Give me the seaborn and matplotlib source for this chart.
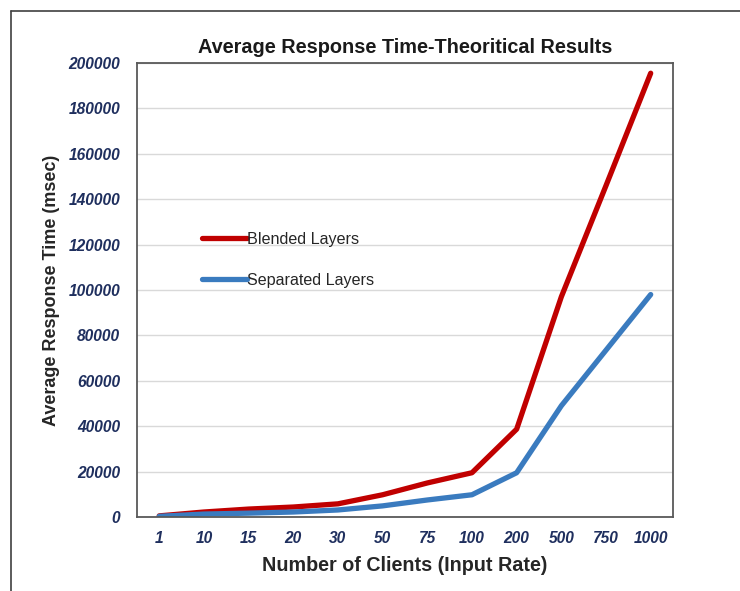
import matplotlib
matplotlib.use("Agg")
import matplotlib.pyplot as plt
import pandas as pd
import seaborn as sns
from matplotlib.lines import Line2D

clients = ["1", "10", "15", "20", "30", "50", "75", "100", "200", "500", "750", "1000"]
blended = [500, 2200, 3500, 4400, 5800, 9800, 15000, 19500, 38700, 97000, 146000, 195500]
separated = [300, 1300, 1700, 2200, 3100, 4900, 7500, 9800, 19500, 49000, 73500, 98000]
series_names = ["Blended Layers", "Separated Layers"]
y_ticks = list(range(0, 200001, 20000))

sns.set_theme(style="white")
plt.rcParams["font.family"] = ["Liberation Sans", "DejaVu Sans"]

df = pd.DataFrame({
    "pos": list(range(len(clients))) * 2,
    "time": blended + separated,
    "series": [series_names[0]] * len(clients) + [series_names[1]] * len(clients),
})

fig = plt.figure(figsize=(7.4, 5.91), dpi=100)
ax = fig.add_axes([0.185, 0.1252, 0.7245, 0.7682])

sns.lineplot(
    data=df, x="pos", y="time", hue="series",
    palette={"Blended Layers": "#C00000", "Separated Layers": "#3A7BBF"},
    linewidth=3.8, ax=ax, legend=False,
)

ax.set_xlim(-0.5, len(clients) - 0.5)
ax.set_ylim(0, 200000)
ax.set_xticks(range(len(clients)))
ax.set_xticklabels(clients)
ax.set_yticks(y_ticks)
ax.set_yticklabels([str(v) for v in y_ticks])
ax.yaxis.grid(True, color="#D9D9D9", linewidth=1)
ax.tick_params(axis="both", length=0, labelsize=11.2, labelcolor="#1F2F5E")
ax.tick_params(axis="x", pad=10)
ax.tick_params(axis="y", pad=12)
for lab in ax.get_xticklabels() + ax.get_yticklabels():
    lab.set_fontweight("bold")
    lab.set_fontstyle("italic")

for sp in ax.spines.values():
    sp.set_color("#595959")
    sp.set_linewidth(1.3)

ax.set_title("Average Response Time-Theoritical Results", fontsize=14.3,
             fontweight="bold", color="#1a1a1a", pad=7)
ax.set_xlabel("Number of Clients (Input Rate)", fontsize=14.2, fontweight="bold",
              color="#262626", labelpad=7)
ax.set_ylabel("Average Response Time (msec)", fontsize=13, fontweight="bold",
              color="#262626", labelpad=6)

handles = [Line2D([], [], color="#C00000", linewidth=3.8),
           Line2D([], [], color="#3A7BBF", linewidth=3.8)]
ax.legend(handles, series_names, loc="upper left", bbox_to_anchor=(0.095, 0.66),
          frameon=False, fontsize=11.6, handlelength=2.8, handletextpad=0.0,
          labelspacing=1.6, labelcolor="#262626")

# outer frame around the chart
fig.add_artist(Line2D([11 / 740, 11 / 740], [0, 1 - 11 / 591], transform=fig.transFigure,
                      color="#404040", linewidth=1.2))
fig.add_artist(Line2D([11 / 740, 1], [1 - 11 / 591, 1 - 11 / 591], transform=fig.transFigure,
                      color="#404040", linewidth=1.2))

fig.savefig("out.png", dpi=100)
